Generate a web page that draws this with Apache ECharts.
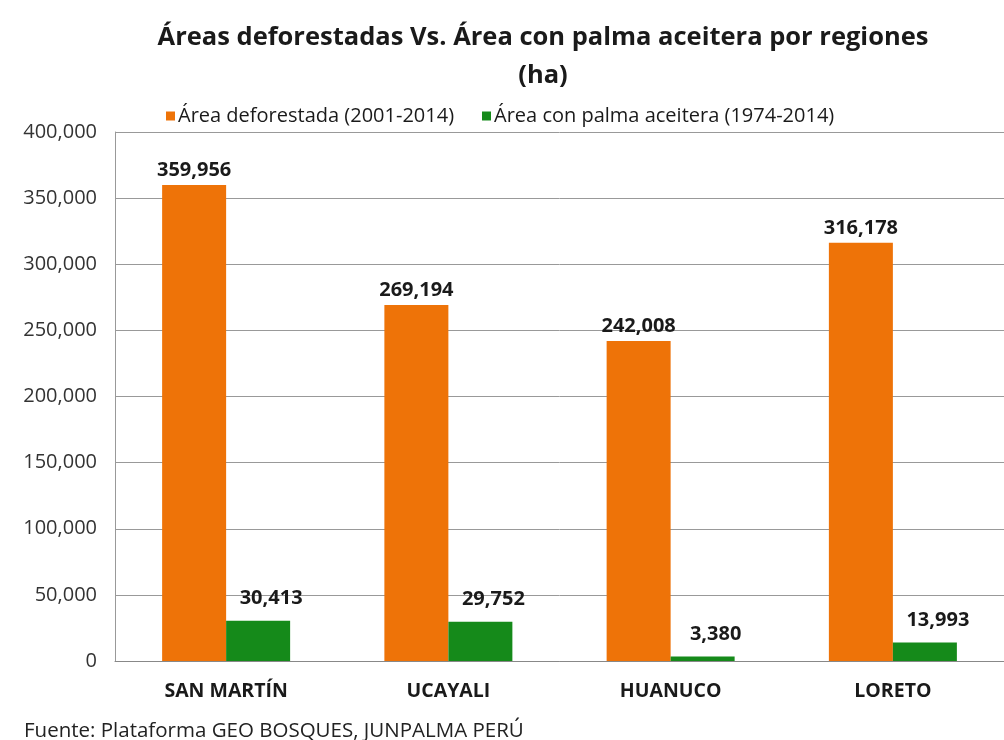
<!DOCTYPE html>
<html><head><meta charset="utf-8">
<script src="https://cdn.jsdelivr.net/npm/echarts@6/dist/echarts.min.js"></script>
<style>html,body{margin:0;padding:0;background:#fff}#c{width:1004px;height:740px}</style>
</head><body><div id="c"></div>
<script>
const categories = ['SAN MARTÍN', 'UCAYALI', 'HUANUCO', 'LORETO'];
const deforestada = [359956, 269194, 242008, 316178];
const palma = [30413, 29752, 3380, 13993];
const seriesNames = ['Área deforestada (2001-2014)', 'Área con palma aceitera (1974-2014)'];
const titleText = 'Áreas deforestadas Vs. Área con palma aceitera por regiones\n(ha)';
const sourceText = 'Fuente: Plataforma GEO BOSQUES, JUNPALMA PERÚ';

const FONT = '"Open Sans", sans-serif';
const fmt = v => Number(v).toLocaleString('en-US');
const chart = echarts.init(document.getElementById('c'));
chart.setOption({
  animation: false,
  textStyle: { fontFamily: FONT },
  title: [{
    text: titleText, left: 538, top: 14, textAlign: 'center',
    textStyle: { fontFamily: FONT, fontSize: 25.5, fontWeight: 'bold', color: '#1a1a1a', lineHeight: 38 }
  }, {
    text: sourceText, left: 19, top: 716,
    textStyle: { fontFamily: FONT, fontSize: 20.5, fontWeight: 'normal', color: '#222' }
  }],
  legend: {
    data: seriesNames, left: 161, top: 101, itemWidth: 9, itemHeight: 9, itemGap: 28,
    icon: 'rect',
    textStyle: { fontFamily: FONT, fontSize: 20, color: '#1a1a1a', padding: [0, 0, 0, -2] }
  },
  grid: { left: 115, top: 132, width: 900, height: 529, containLabel: false },
  xAxis: {
    type: 'category', data: categories,
    axisLine: { lineStyle: { color: '#888' } }, axisTick: { show: false },
    axisLabel: { fontFamily: FONT, fontSize: 19.5, fontWeight: 'bold', color: '#1a1a1a', margin: 20 }
  },
  yAxis: {
    type: 'value', min: 0, max: 400000, interval: 50000,
    axisLine: { show: true, lineStyle: { color: '#999' } }, axisTick: { show: false },
    splitLine: { lineStyle: { color: '#999' } },
    axisLabel: { fontFamily: FONT, fontSize: 20, color: '#333', margin: 18, formatter: fmt }
  },
  series: [{
    name: seriesNames[0], type: 'bar', data: deforestada, barWidth: 64, barGap: '0%',
    itemStyle: { color: '#EE7308' },
    label: { show: true, position: 'top', distance: 5, formatter: p => fmt(p.value),
      fontFamily: FONT, fontSize: 20, fontWeight: 'bold', color: '#1a1a1a' }
  }, {
    name: seriesNames[1], type: 'bar', data: palma, barWidth: 64,
    itemStyle: { color: '#158A1A' },
    label: { show: true, position: 'top', distance: 12, offset: [13, 0], formatter: p => fmt(p.value),
      fontFamily: FONT, fontSize: 20, fontWeight: 'bold', color: '#1a1a1a' }
  }]
});
</script></body></html>
